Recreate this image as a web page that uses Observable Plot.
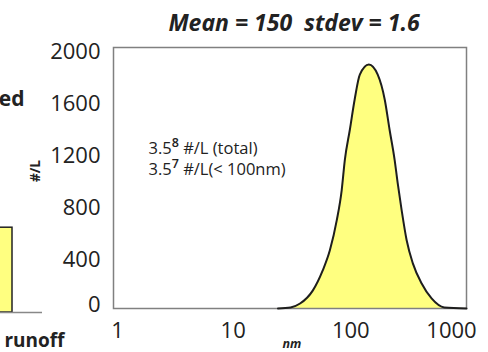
<!DOCTYPE html>
<html><head><meta charset="utf-8">
<script src="https://cdn.jsdelivr.net/npm/d3@7"></script>
<script src="https://cdn.jsdelivr.net/npm/@observablehq/plot@0.6"></script>
<style>
html,body{margin:0;padding:0;background:#fff;}
#wrap{position:relative;width:488px;height:352px;overflow:hidden;background:#fff;}
#wrap svg{position:absolute;top:0;}
</style></head><body><div id="wrap"></div>
<script>
// Size distribution
const sizesNm = [25, 32, 38.5, 49.5, 60, 69, 79, 87, 92.5, 102, 112, 124, 148, 176, 202, 222, 245, 260, 281, 310, 350, 416, 505, 648, 1000];
const counts  = [0, 8, 38, 139, 292, 446, 677, 908, 1139, 1370, 1600, 1792, 1870, 1792, 1600, 1370, 1139, 962, 754, 523, 346, 192, 77, 8, 0];
const yTicks = [400, 800, 1200, 1600, 2000];
const yTickZero = [0];
const xTicksMid = [10, 100];
const xTickFirst = [1];
const xTickLast = [1000];
const titleText = "Mean = 150\u00a0 stdev = 1.6";
const noteText = "3.5\u2078 #/L (total)\n3.5\u2077 #/L(< 100nm)";
const yLabel = "#/L";
const xLabel = "nm";
// partial neighbouring chart on the left
const leftCats = ["runoff"];
const leftVals = [640];
const leftTopText = "ed";

const data = sizesNm.map((nm, i) => ({nm, count: counts[i]}));
const font = "'Open Sans', sans-serif";
const ink = "#222";
const yellow = "#ffff80";

const main = Plot.plot({
  width: 488, height: 352,
  marginLeft: 113, marginRight: 22, marginTop: 47, marginBottom: 44,
  style: {fontFamily: font, background: "transparent", color: ink, overflow: "visible"},
  x: {type: "log", domain: [1, 1000]},
  y: {domain: [0, 2000]},
  marks: [
    Plot.areaY(data, {x: "nm", y: "count", fill: yellow, curve: "monotone-x"}),
    Plot.frame({stroke: "#808080", strokeWidth: 1.5}),
    Plot.lineY(data, {x: "nm", y: "count", stroke: "#1e1e1e", strokeWidth: 2, curve: "monotone-x"}),
    Plot.axisY(yTicks, {tickSize: 0, tickPadding: 13, fontSize: 22, dy: 4, label: null, tickFormat: "d", fill: ink}),
    Plot.axisY(yTickZero, {tickSize: 0, tickPadding: 13, fontSize: 22, dy: -4, label: null, tickFormat: "d", fill: ink}),
    Plot.axisX(xTickFirst, {tickSize: 0, tickPadding: 14, fontSize: 22, dx: 4, label: null, tickFormat: d => String(d), fill: ink}),
    Plot.axisX(xTicksMid, {tickSize: 0, tickPadding: 14, fontSize: 22, dx: 2, label: null, tickFormat: d => String(d), fill: ink}),
    Plot.axisX(xTickLast, {tickSize: 0, tickPadding: 14, fontSize: 22, dx: -15, label: null, tickFormat: d => String(d), fill: ink}),
    Plot.text([titleText], {text: d => d, frameAnchor: "top", dx: 4, dy: -33, fontSize: 23, fontWeight: "bold", fontStyle: "italic", fill: ink}),
    Plot.text([xLabel], {text: d => d, frameAnchor: "bottom", dx: 2, dy: 39, fontSize: 12.5, fontWeight: "bold", fontStyle: "italic", fill: ink}),
    Plot.text([yLabel], {text: d => d, frameAnchor: "left", rotate: -90, dx: -78, dy: 4, fontSize: 13.5, fontWeight: "bold", fill: ink}),
    Plot.text([noteText], {text: d => d, frameAnchor: "top-left", textAnchor: "start", lineAnchor: "top", lineHeight: 1.3, dx: 35, dy: 91, fontSize: 16.5, fill: ink, className: "note"})
  ]
});

// turn the Unicode superscript digits of the note into real raised tspans
const supMap = {"\u2077": "7", "\u2078": "8"};
main.querySelectorAll(".note text, .note tspan").forEach(el => {
  Array.from(el.childNodes).forEach(node => {
    if (node.nodeType !== 3) return;
    const s = node.textContent;
    const m = s.match(/[\u2077\u2078]/);
    if (!m) return;
    const i = m.index;
    const ns = "http://www.w3.org/2000/svg";
    const before = document.createTextNode(s.slice(0, i));
    const sup = document.createElementNS(ns, "tspan");
    sup.setAttribute("font-size", "12.5");
    sup.setAttribute("dy", "-7");
    sup.setAttribute("font-weight", "600");
    sup.textContent = supMap[m[0]];
    const rest = document.createElementNS(ns, "tspan");
    rest.setAttribute("dy", "7");
    rest.textContent = s.slice(i + 1);
    el.replaceChild(rest, node);
    el.insertBefore(sup, rest);
    el.insertBefore(before, sup);
  });
});

const left = Plot.plot({
  width: 174, height: 352,
  marginLeft: 0, marginRight: 0, marginTop: 47, marginBottom: 40,
  style: {fontFamily: font, background: "transparent", color: ink, overflow: "visible"},
  x: {domain: leftCats, padding: 0.2, axis: null},
  y: {domain: [0, 2000], axis: null},
  marks: [
    Plot.barY(leftCats, {x: d => d, y: (d, i) => leftVals[i], fill: yellow, stroke: ink, strokeWidth: 1.5}),
    Plot.ruleY([0], {stroke: "#888", strokeWidth: 1.5}),
    Plot.text([leftTopText], {text: d => d, frameAnchor: "top-right", textAnchor: "end", dx: -18, dy: 44, fontSize: 21, fontWeight: "bold", fill: ink}),
    Plot.text(leftCats, {text: d => d, frameAnchor: "bottom-right", textAnchor: "end", dx: 22, dy: 34, fontSize: 19, fontWeight: "bold", fill: ink})
  ]
});
left.style.left = "-132px";
main.style.left = "0px";
const wrap = document.getElementById("wrap");
wrap.appendChild(main);
wrap.appendChild(left);
</script></body></html>
